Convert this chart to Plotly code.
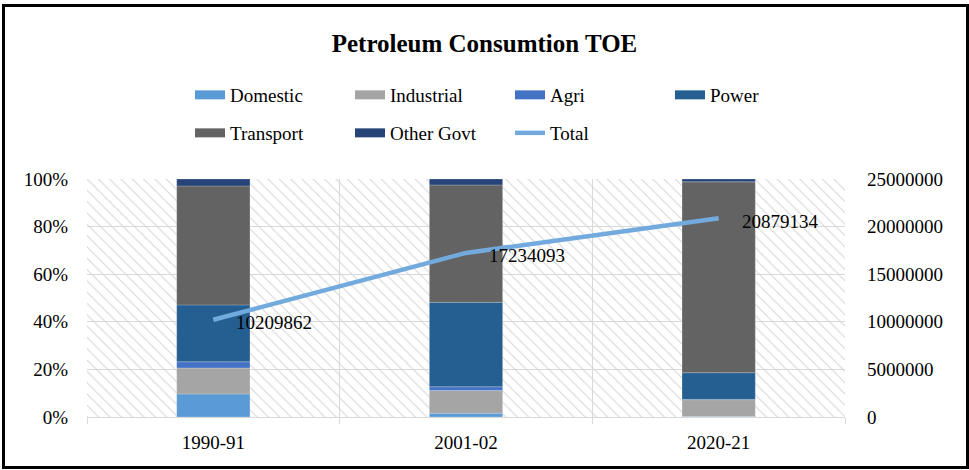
import numpy as np
import plotly.graph_objects as go

# ---- data ----
categories = ["1990-91", "2001-02", "2020-21"]
domestic = [9.7, 1.6, 0.2]
industrial = [10.9, 9.5, 7.1]
agri = [2.6, 1.6, 0.1]
power = [23.9, 35.5, 11.2]
transport = [50.0, 49.3, 80.2]
other_govt = [2.9, 2.5, 1.2]
total = [10209862, 17234093, 20879134]

series_names = ["Domestic", "Industrial", "Agri", "Power", "Transport", "Other Govt"]
series_vals = [domestic, industrial, agri, power, transport, other_govt]
series_colors = ["#5B9BD5", "#A5A5A5", "#4472C4", "#255E91", "#636363", "#264478"]
line_color = "#72aadd"

W, H = 969, 470
ML, MR, MT, MB = 87, 124, 179, 53
PW, PH = W - ML - MR, H - MT - MB
FONT = "Liberation Serif"

fig = go.Figure()

# hatched plot background (decoration, full-category bars)
fig.add_trace(go.Bar(
    x=categories, y=[100] * len(categories), width=1,
    marker=dict(color="rgba(0,0,0,0)", line=dict(width=0),
                pattern=dict(shape="\\", size=8, solidity=0.14, fgcolor="#d6d6d6",
                             bgcolor="rgba(0,0,0,0)", fillmode="replace")),
    showlegend=False, hoverinfo="skip",
))

# stacked 100% bars
base = np.zeros(len(categories))
for name, vals, col in zip(series_names, series_vals, series_colors):
    fig.add_trace(go.Bar(
        x=categories, y=vals, base=base.copy(), width=0.29, name=name,
        marker=dict(color=col, line=dict(width=0.6, color="rgba(255,255,255,0.35)")),
        showlegend=False,
    ))
    base += np.array(vals)

# total line on secondary axis
fig.add_trace(go.Scatter(
    x=categories, y=total, yaxis="y2", mode="lines",
    line=dict(color=line_color, width=4.5),
    showlegend=False, name="Total",
))

# data labels for the total line
annotations = [
    dict(x=c, y=v, xref="x", yref="y2", text=str(v), showarrow=False,
         xanchor="left", yanchor="middle", xshift=21, yshift=-3,
         font=dict(family=FONT, size=19, color="black"))
    for c, v in zip(categories, total)
]

# legend entries (wide swatches)
row1 = ["Domestic", "Industrial", "Agri", "Power"]
for name, col in zip(series_names, series_colors):
    fig.add_trace(go.Scatter(
        x=[None], y=[None], mode="lines", name=name,
        line=dict(color=col, width=9),
        legend="legend" if name in row1 else "legend2",
    ))
fig.add_trace(go.Scatter(
    x=[None], y=[None], mode="lines", name="Total",
    line=dict(color=line_color, width=4.5), legend="legend2",
))

leg_x = (173 + 22 - 5 - ML) / PW
common_leg = dict(orientation="h", x=leg_x, xanchor="left", yanchor="middle",
                  entrywidth=115, entrywidthmode="pixels",
                  font=dict(family=FONT, size=19, color="black"),
                  bgcolor="rgba(0,0,0,0)", itemclick=False, itemdoubleclick=False)

fig.update_layout(
    width=W, height=H,
    margin=dict(l=ML, r=MR, t=MT, b=MB),
    paper_bgcolor="white", plot_bgcolor="white",
    barmode="overlay",
    font=dict(family=FONT, size=19, color="black"),
    title=dict(text="<b>Petroleum Consumtion TOE</b>", x=0.5, xanchor="center",
               y=1 - 43 / H, yanchor="middle",
               font=dict(family=FONT, size=25, color="black")),
    legend=dict(**common_leg, y=(H - MB - 95) / PH),
    legend2=dict(**common_leg, y=(H - MB - 133) / PH),
    xaxis=dict(type="category", range=[-0.5, 2.5], showgrid=True, gridcolor="#d9d9d9",
               tickson="boundaries", ticks="outside", ticklen=6, tickcolor="#d9d9d9",
               showline=True, linecolor="#d9d9d9", linewidth=1, ticklabelstandoff=8,
               tickfont=dict(family=FONT, size=19, color="black"), zeroline=False),
    yaxis=dict(range=[0, 100], dtick=20, ticksuffix="%", showgrid=True,
               gridcolor="#d9d9d9", zeroline=False, ticklabelstandoff=18,
               tickfont=dict(family=FONT, size=19, color="black")),
    yaxis2=dict(range=[0, 25000000], dtick=5000000, tickformat="d", overlaying="y",
                side="right", showgrid=False, zeroline=False, ticklabelstandoff=21,
                tickfont=dict(family=FONT, size=19, color="black")),
    annotations=annotations,
    shapes=[dict(type="rect", xref="paper", yref="paper",
                 x0=(3.5 - ML) / PW, x1=(967.5 - ML) / PW,
                 y0=(H - MB - 467.5) / PH, y1=(H - MB - 5.5) / PH,
                 line=dict(color="black", width=3), fillcolor="rgba(0,0,0,0)", layer="above")],
)

fig.write_html("out.html", config={"displayModeBar": False},
               post_script="document.body.style.margin='0px';")
